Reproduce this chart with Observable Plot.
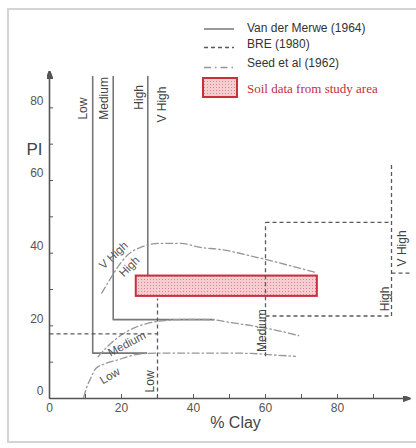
<!DOCTYPE html>
<html><head><meta charset="utf-8">
<script src="https://cdn.jsdelivr.net/npm/d3@7"></script>
<script src="https://cdn.jsdelivr.net/npm/@observablehq/plot@0.6"></script>
<style>
body{margin:0;background:#fff;font-family:Arial,"Liberation Sans",sans-serif;}
#wrap{position:relative;width:416px;height:448px;overflow:hidden;background:#fff;}
#frame{position:absolute;left:7px;top:8px;width:430px;height:435px;border:2px solid #d4d4d4;box-sizing:border-box;}
#chart{position:absolute;left:0;top:0;}
#legend{position:absolute;left:0;top:0;}
</style></head><body>
<div id="wrap"><div id="frame"></div><div id="chart"></div>
<svg id="legend" width="416" height="100" font-family="Arial, 'Liberation Sans', sans-serif"></svg>
</div>
<script>
// ---- scales / ticks ----
const xDomain = [0, 100];
const yDomain = [0, 90];
const xTicksMajor = [0, 20, 40, 60, 80];
const yTicksMajor = [0, 20, 40, 60, 80];
const xTicksMinor = [0, 10, 20, 30, 40, 50, 60, 70, 80, 90];
const yTicksMinor = [0, 10, 20, 30, 40, 50, 60, 70, 80];
const xTitle = "% Clay";
const yTitle = "PI";

// ---- Van der Merwe (1964) boundaries (solid) ----
const vdmNames = ["Low/Medium", "Medium/High", "High/V High"];
const vdmX = [[12, 12, 27], [17.7, 17.7, 45.6], [27.3, 27.3]];
const vdmY = [[88.6, 12.5, 12.5], [88.6, 21.7, 21.7], [88.6, 31]];
const vdmLabels = ["Low", "Medium", "High", "V High"];
const vdmLabelX = [9.4, 15.3, 25, 31.4];
const vdmLabelY = [79.8, 82.6, 82.9, 80.9];

// ---- BRE (1980) boundaries (dashed) ----
const breX1 = [0, 30, 60, 60, 60, 95, 95];
const breY1 = [17.8, 0, 11.6, 48.5, 22.7, 22.7, 34.5];
const breX2 = [30, 30, 60, 95, 95, 95, 100];
const breY2 = [17.8, 27.5, 48.5, 48.5, 22.7, 64.7, 34.5];
const breLabels = ["Low", "Medium", "High", "V High"];
const breLabelX = [28, 59, 93.3, 98];
const breLabelY = [4.7, 18.7, 27.4, 41.3];

// ---- Seed et al (1962) boundaries (dash-dot) ----
const seedNames = ["Low/Medium", "Medium/High", "High/V High"];
const seedX = [
  [9.5, 10.3, 11.4, 12.8, 15.5, 18.9, 22, 25.3, 30, 40, 50, 56, 62, 68.3],
  [13.5, 16, 19, 23.7, 30, 38, 45, 50.3, 55.8, 65.6, 69.2],
  [14.5, 16.5, 18.5, 21.5, 25.3, 30.8, 36.4, 41.9, 47.5, 57.8, 67.8, 73.9]
];
const seedY = [
  [0.3, 3, 5.5, 8.2, 9.6, 10.6, 11.6, 12.3, 12.5, 12.5, 12.5, 12.4, 12, 11.6],
  [11.5, 14.2, 16.8, 19.5, 21.2, 21.8, 21.7, 20.9, 20.1, 18.2, 17.3],
  [29, 32.3, 35.5, 39.3, 41.6, 42.7, 42.7, 41.6, 41, 38.8, 36.3, 34.7]
];
const seedLabels = ["Low", "Medium", "High", "V High"];
const seedLabelX = [16.8, 21.5, 22.2, 17.8];
const seedLabelY = [6.2, 15, 36.3, 39.4];
const seedLabelAngle = [-31, -28, -45, -43];

// ---- Soil data from study area ----
const soilClay = [24.1, 74.4];
const soilPI = [28.1, 33.7];

// ---- legend ----
const legendNames = ["Van der Merwe (1964)", "BRE (1980)", "Seed et al (1962)", "Soil data from study area"];

// ---- build tables ----
const vdm = vdmNames.flatMap((n, i) => vdmX[i].map((x, j) => ({name: n, x, y: vdmY[i][j]})));
const bre = breX1.map((x1, i) => ({x1, y1: breY1[i], x2: breX2[i], y2: breY2[i]}));
const seed = seedNames.flatMap((n, i) => seedX[i].map((x, j) => ({name: n, x, y: seedY[i][j]})));
const soil = [{x1: soilClay[0], x2: soilClay[1], y1: soilPI[0], y2: soilPI[1]}];
const vdmLab = vdmLabels.map((t, i) => ({t, x: vdmLabelX[i], y: vdmLabelY[i]}));
const breLab = breLabels.map((t, i) => ({t, x: breLabelX[i], y: breLabelY[i]}));
const seedLab = seedLabels.map((t, i) => ({t, x: seedLabelX[i], y: seedLabelY[i], a: seedLabelAngle[i]}));
const axes = [
  {x1: xDomain[0], y1: yDomain[0], x2: xDomain[1], y2: yDomain[0]},
  {x1: xDomain[0], y1: yDomain[0], x2: xDomain[0], y2: yDomain[1]}
];

const NS = "http://www.w3.org/2000/svg";
function el(tag, attrs) {
  const e = document.createElementNS(NS, tag);
  for (const k in attrs) e.setAttribute(k, attrs[k]);
  return e;
}
function defsMark() {
  const defs = el("defs", {});
  const p = el("pattern", {id: "hatch", width: 3, height: 3, patternUnits: "userSpaceOnUse"});
  p.appendChild(el("rect", {width: 3, height: 3, fill: "#f6cdd1"}));
  p.appendChild(el("rect", {width: 1, height: 1, fill: "#dc8790"}));
  defs.appendChild(p);
  const g = el("g", {});
  g.appendChild(defs);
  return g;
}
function filledArrow(color) {
  const m = el("marker", {viewBox: "0 -3 8 6", markerWidth: 8, markerHeight: 6, refX: 7, refY: 0,
    orient: "auto", markerUnits: "userSpaceOnUse"});
  m.appendChild(el("path", {d: "M0,-3L8,0L0,3Z", fill: color}));
  return m;
}

const axisColor = "#555";
const chart = Plot.plot({
  width: 416, height: 448,
  marginLeft: 49, marginRight: 7, marginTop: 71, marginBottom: 50,
  x: {domain: xDomain, label: null},
  y: {domain: yDomain, label: null},
  style: {fontFamily: "Arial, 'Liberation Sans', sans-serif", background: "transparent", color: axisColor},
  marks: [
    defsMark,
    // Van der Merwe (behind soil box)
    Plot.line(vdm, {x: "x", y: "y", z: "name", stroke: "#777", strokeWidth: 1.6}),
    Plot.rect(soil, {x1: "x1", x2: "x2", y1: "y1", y2: "y2", fill: "url(#hatch)", stroke: "#c8303e", strokeWidth: 2}),
    // Seed
    Plot.line(seed, {x: "x", y: "y", z: "name", curve: "monotone-x", stroke: "#969696", strokeWidth: 1.3, strokeDasharray: "7,3,1.5,3"}),
    // BRE
    Plot.link(bre, {x1: "x1", y1: "y1", x2: "x2", y2: "y2", stroke: "#5a5a5a", strokeWidth: 1.3, strokeDasharray: "4,3"}),
    // labels
    Plot.text(vdmLab, {x: "x", y: "y", text: "t", rotate: -90, fontSize: 12, fill: "#444"}),
    Plot.text(breLab, {x: "x", y: "y", text: "t", rotate: -90, fontSize: 12, fill: "#444"}),
    Plot.text(seedLab, {x: "x", y: "y", text: "t", rotate: "a", fontSize: 11.5, fill: "#555"}),
    // axes
    Plot.link(axes, {x1: "x1", y1: "y1", x2: "x2", y2: "y2", stroke: axisColor, strokeWidth: 1.6, markerEnd: filledArrow}),
    Plot.axisX(xTicksMinor, {tickSize: -4, tickFormat: () => "", stroke: axisColor}),
    Plot.axisY(yTicksMinor, {tickSize: -4, tickFormat: () => "", stroke: axisColor}),
    Plot.axisX(xTicksMajor, {tickSize: 0, tickPadding: 5, fontSize: 12, fill: axisColor, label: null}),
    Plot.axisY(yTicksMajor, {tickSize: 0, tickPadding: 6, dy: -7, fontSize: 12, fill: axisColor, label: null}),
    Plot.text([yTitle], {frameAnchor: "top-left", dx: -23, dy: 71, text: d => d, fontSize: 17, fill: "#444"}),
    Plot.text([xTitle], {frameAnchor: "bottom", dx: 6, dy: 29, text: d => d, fontSize: 16, fill: "#444"})
  ]
});
document.getElementById("chart").appendChild(chart);

// ---- legend (HTML-side SVG) ----
const lg = document.getElementById("legend");
const rowY = [29, 47.5, 67.5];
const rowDash = [null, "4,3", "7,4,1.5,4"];
const rowStroke = ["#777", "#5a5a5a", "#969696"];
const textY = [27.5, 44, 62.5, 88];
for (let i = 0; i < 3; i++) {
  const a = {x1: 204, x2: 234, y1: rowY[i], y2: rowY[i], stroke: rowStroke[i], "stroke-width": 1.5};
  if (rowDash[i]) a["stroke-dasharray"] = rowDash[i];
  lg.appendChild(el("line", a));
}
lg.appendChild(el("rect", {x: 203, y: 78, width: 34, height: 19, fill: "url(#hatch)", stroke: "#c8303e", "stroke-width": 2}));
legendNames.forEach((t, i) => {
  const tx = el("text", {x: 247, y: textY[i], "dominant-baseline": "central",
    "font-size": i === 3 ? 13 : 12,
    fill: i === 3 ? "#c03040" : "#333",
    "font-family": i === 3 ? "'Liberation Serif', 'DejaVu Serif', serif" : "Arial, 'Liberation Sans', sans-serif"});
  tx.textContent = t;
  lg.appendChild(tx);
});
</script>
</body></html>
